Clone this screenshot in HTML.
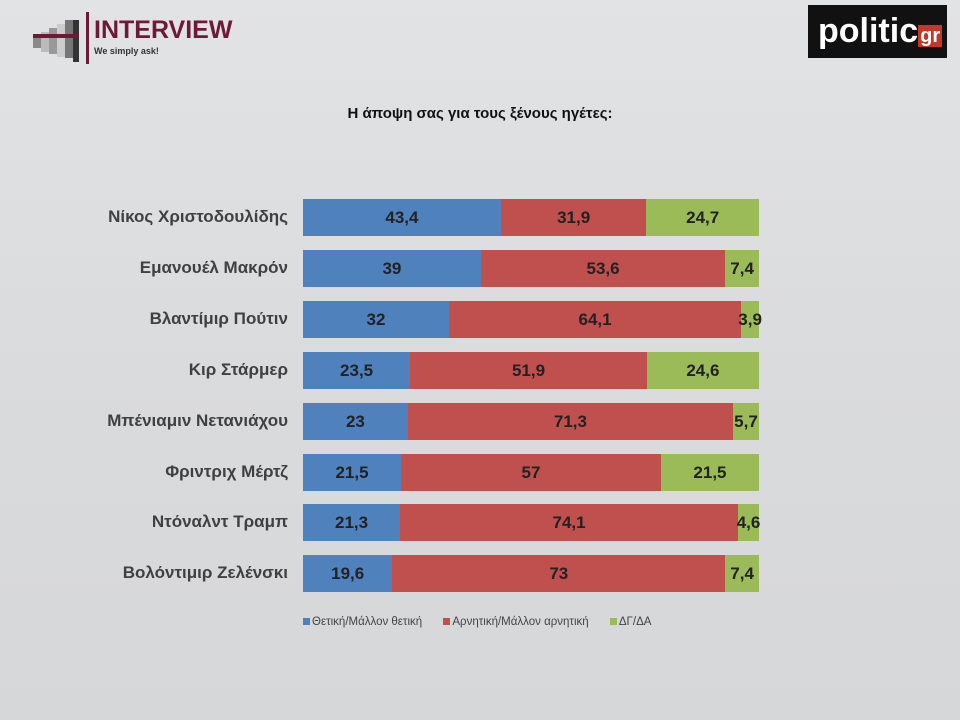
<!DOCTYPE html>
<html><head><meta charset="utf-8"><style>
body{margin:0;width:960px;height:720px;background:#dedfe1;font-family:"Liberation Sans",sans-serif;overflow:hidden;position:relative}
.abs{position:absolute}
</style></head><body>
<div class="abs" style="left:0;top:0;width:960px;height:720px;background:linear-gradient(#e2e3e5 0,#dadbdd 50%,#d6d7d9 100%)"></div>
<div class="abs" style="left:30px;top:10px;width:210px;height:55px">
<svg width="60" height="55">
<rect x="3" y="24" width="8" height="14" fill="#8a8a8a"/><rect x="11" y="22" width="8" height="20" fill="#bbb"/>
<rect x="19" y="18" width="8" height="26" fill="#999"/><rect x="27" y="14" width="8" height="33" fill="#ccc"/>
<rect x="35" y="10" width="8" height="38" fill="#777"/><rect x="43" y="10" width="6" height="42" fill="#333"/>
<rect x="3" y="24" width="46" height="4" fill="#6d1a36"/>
</svg>
<div class="abs" style="left:56px;top:2px;width:3px;height:52px;background:#6d1a36"></div>
<div class="abs" style="left:64px;top:6px;font-size:25px;font-weight:bold;color:#6d1a36">INTERVIEW</div>
<div class="abs" style="left:64px;top:36px;font-size:9px;font-weight:bold;color:#333">We simply ask!</div>
</div>
<div class="abs" style="left:808px;top:5px;width:139px;height:53px;background:#111;color:#fff;font-weight:bold;font-size:34px;line-height:53px;text-indent:10px">politic<span style="background:#c0392b;font-size:20px;padding:0 2px">gr</span></div>
<div class="abs" style="left:0;width:960px;top:105px;text-align:center;font-size:15px;font-weight:bold;color:#111">Η άποψη σας για τους ξένους ηγέτες:</div>
<div id="chart"></div>
<div class="abs" style="left:303px;top:616px;font-size:11.5px;color:#444;white-space:nowrap">
<span><span style="display:inline-block;width:7px;height:7px;background:#4f81bd;margin-right:2px"></span>Θετική/Μάλλον θετική</span>
<span style="margin-left:18px"><span style="display:inline-block;width:7px;height:7px;background:#c0504d;margin-right:2px"></span>Αρνητική/Μάλλον αρνητική</span>
<span style="margin-left:18px"><span style="display:inline-block;width:7px;height:7px;background:#9bbb59;margin-right:2px"></span>ΔΓ/ΔΑ</span>
</div>
<script>
const categories=["Νίκος Χριστοδουλίδης","Εμανουέλ Μακρόν","Βλαντίμιρ Πούτιν","Κιρ Στάρμερ","Μπένιαμιν Νετανιάχου","Φριντριχ Μέρτζ","Ντόναλντ Τραμπ","Βολόντιμιρ Ζελένσκι"];
const positive=[43.4,39,32,23.5,23,21.5,21.3,19.6];
const negative=[31.9,53.6,64.1,51.9,71.3,57,74.1,73];
const dk=[24.7,7.4,3.9,24.6,5.7,21.5,4.6,7.4];
const X0=303,W=456,Y0=199,STEP=50.9,BH=37;
const xs=v=>v/100*W;
const chart=document.getElementById('chart');
const series=[[positive,'#4f81bd','positive'],[negative,'#c0504d','negative'],[dk,'#9bbb59','dk']];
categories.forEach((c,i)=>{
  const y=Y0+i*STEP;
  const lab=document.createElement('div');
  
  
  lab.className='abs';
  lab.style.cssText=`left:0;width:288px;text-align:right;top:${y+8}px;font-size:17px;font-weight:bold;color:#404040`;
  lab.textContent=c;chart.appendChild(lab);
  const tot=positive[i]+negative[i]+dk[i];
  let acc=0;
  series.forEach(([arr,col,nm])=>{
    const v=arr[i],w=xs(v/tot*100),x=X0+xs(acc/tot*100);
    const b=document.createElement('div');
    
    
    b.className='abs';
    b.style.cssText=`left:${x}px;top:${y}px;width:${w}px;height:${BH}px;background:${col};color:#222;font-size:17px;font-weight:bold;text-align:center;line-height:${BH}px;white-space:nowrap;display:flex;justify-content:center`;
    b.textContent=String(v).replace('.',',');
    chart.appendChild(b);acc+=v;
  });
});
</script>
</body></html>
